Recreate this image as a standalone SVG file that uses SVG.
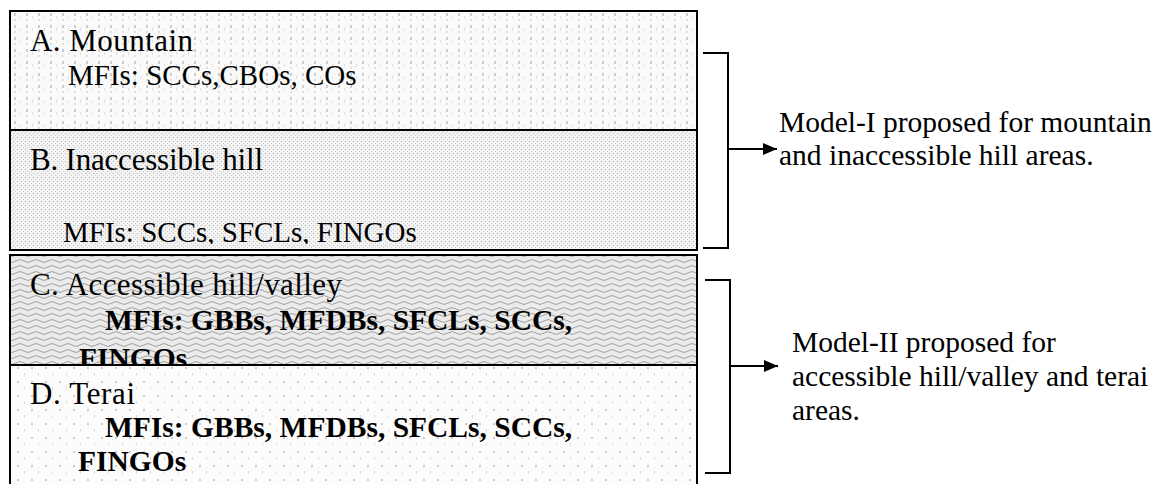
<svg xmlns="http://www.w3.org/2000/svg" width="1157" height="484" viewBox="0 0 1157 484">
<style>
.t{font-family:"Liberation Serif","Times New Roman",serif;font-size:29px;fill:#000}
.h{font-size:31px}
.b{font-weight:bold;font-size:29.5px}
.r{font-size:29.5px}
.box{stroke:#000;stroke-width:2;fill:none}
.br{fill:none;stroke:#000;stroke-width:2}
</style>
<defs>
<pattern id="pA" width="12" height="12" patternUnits="userSpaceOnUse">
<rect width="12" height="12" fill="#fafafa"/>
<rect x="2" y="1" width="2" height="3" fill="#cdcdcd"/>
<rect x="2" y="7" width="2" height="2" fill="#dedede"/>
<rect x="8" y="4" width="1" height="3" fill="#e0e0e0"/>
</pattern>
<pattern id="pB" width="4" height="4" patternUnits="userSpaceOnUse">
<rect width="4" height="4" fill="#f3f3f3"/>
<rect x="1" y="1" width="1" height="1" fill="#b5b5b5"/>
<rect x="3" y="3" width="1" height="1" fill="#cccccc"/>
</pattern>
<pattern id="pC" width="16" height="6" patternUnits="userSpaceOnUse">
<rect width="16" height="6" fill="#ebebeb"/>
<path d="M0,3 Q4,0 8,3 T16,3" fill="none" stroke="#a0a0a0" stroke-width="1"/>
</pattern>
<pattern id="pD" width="14" height="14" patternUnits="userSpaceOnUse">
<rect width="14" height="14" fill="#fcfcfc"/>
<rect x="3" y="3" width="2" height="2" fill="#cccccc"/>
<rect x="10" y="9" width="1" height="3" fill="#dcdcdc"/>
</pattern>
<marker id="ar" viewBox="0 0 14 12" refX="14" refY="6" markerWidth="14" markerHeight="12" markerUnits="userSpaceOnUse" orient="auto">
<path d="M0,0 L14,6 L0,12 z" fill="#000"/>
</marker>
<clipPath id="cB"><rect x="10" y="130" width="687" height="114"/></clipPath>
<clipPath id="cC"><rect x="10" y="254" width="687" height="111"/></clipPath>
</defs>

<g id="nodeA">
<rect x="10" y="11" width="687" height="119" fill="url(#pA)"/>
<text class="t h" x="30" y="51" textLength="163">A. Mountain</text>
<text class="t" x="68" y="85">MFIs: SCCs,CBOs, COs</text>
</g>
<g id="nodeB">
<rect x="10" y="130" width="687" height="120" fill="url(#pB)"/>
<text class="t h" x="30" y="170" textLength="233">B. Inaccessible hill</text>
<g clip-path="url(#cB)"><text class="t" x="63" y="242">MFIs: SCCs, SFCLs, FINGOs</text></g>
</g>
<rect x="10" y="11" width="687" height="239" class="box"/>
<line x1="10" y1="130" x2="697" y2="130" class="box"/>

<g id="nodeC">
<rect x="10" y="255" width="687" height="110" fill="url(#pC)"/>
<text class="t h" x="30" y="295" textLength="312">C. Accessible hill/valley</text>
<text class="t b" x="105" y="330">MFIs: GBBs, MFDBs, SFCLs, SCCs,</text>
<g clip-path="url(#cC)"><text class="t b" x="79" y="368">FINGOs</text></g>
</g>
<g id="nodeD">
<rect x="10" y="365" width="687" height="125" fill="url(#pD)"/>
<text class="t h" x="30" y="404" textLength="105">D. Terai</text>
<text class="t b" x="105" y="437">MFIs: GBBs, MFDBs, SFCLs, SCCs,</text>
<text class="t b" x="78" y="471">FINGOs</text>
</g>
<path d="M10,490 V255 H697 V490" class="box"/>
<line x1="10" y1="365" x2="697" y2="365" class="box"/>

<g id="connectors">
<path class="br" d="M703,53 H728 V248 H703"/>
<line x1="728" y1="149" x2="777" y2="149" stroke="#000" stroke-width="2" marker-end="url(#ar)"/>
<path class="br" d="M705,280 H730 V473 H705"/>
<line x1="730" y1="366" x2="778" y2="366" stroke="#000" stroke-width="2" marker-end="url(#ar)"/>
</g>

<g id="label1">
<text class="t r" x="779" y="132">Model-I proposed for mountain</text>
<text class="t r" x="779" y="165">and inaccessible hill areas.</text>
</g>
<g id="label2">
<text class="t r" x="792" y="352">Model-II proposed for</text>
<text class="t r" x="792" y="386">accessible hill/valley and terai</text>
<text class="t r" x="792" y="420">areas.</text>
</g>
</svg>
